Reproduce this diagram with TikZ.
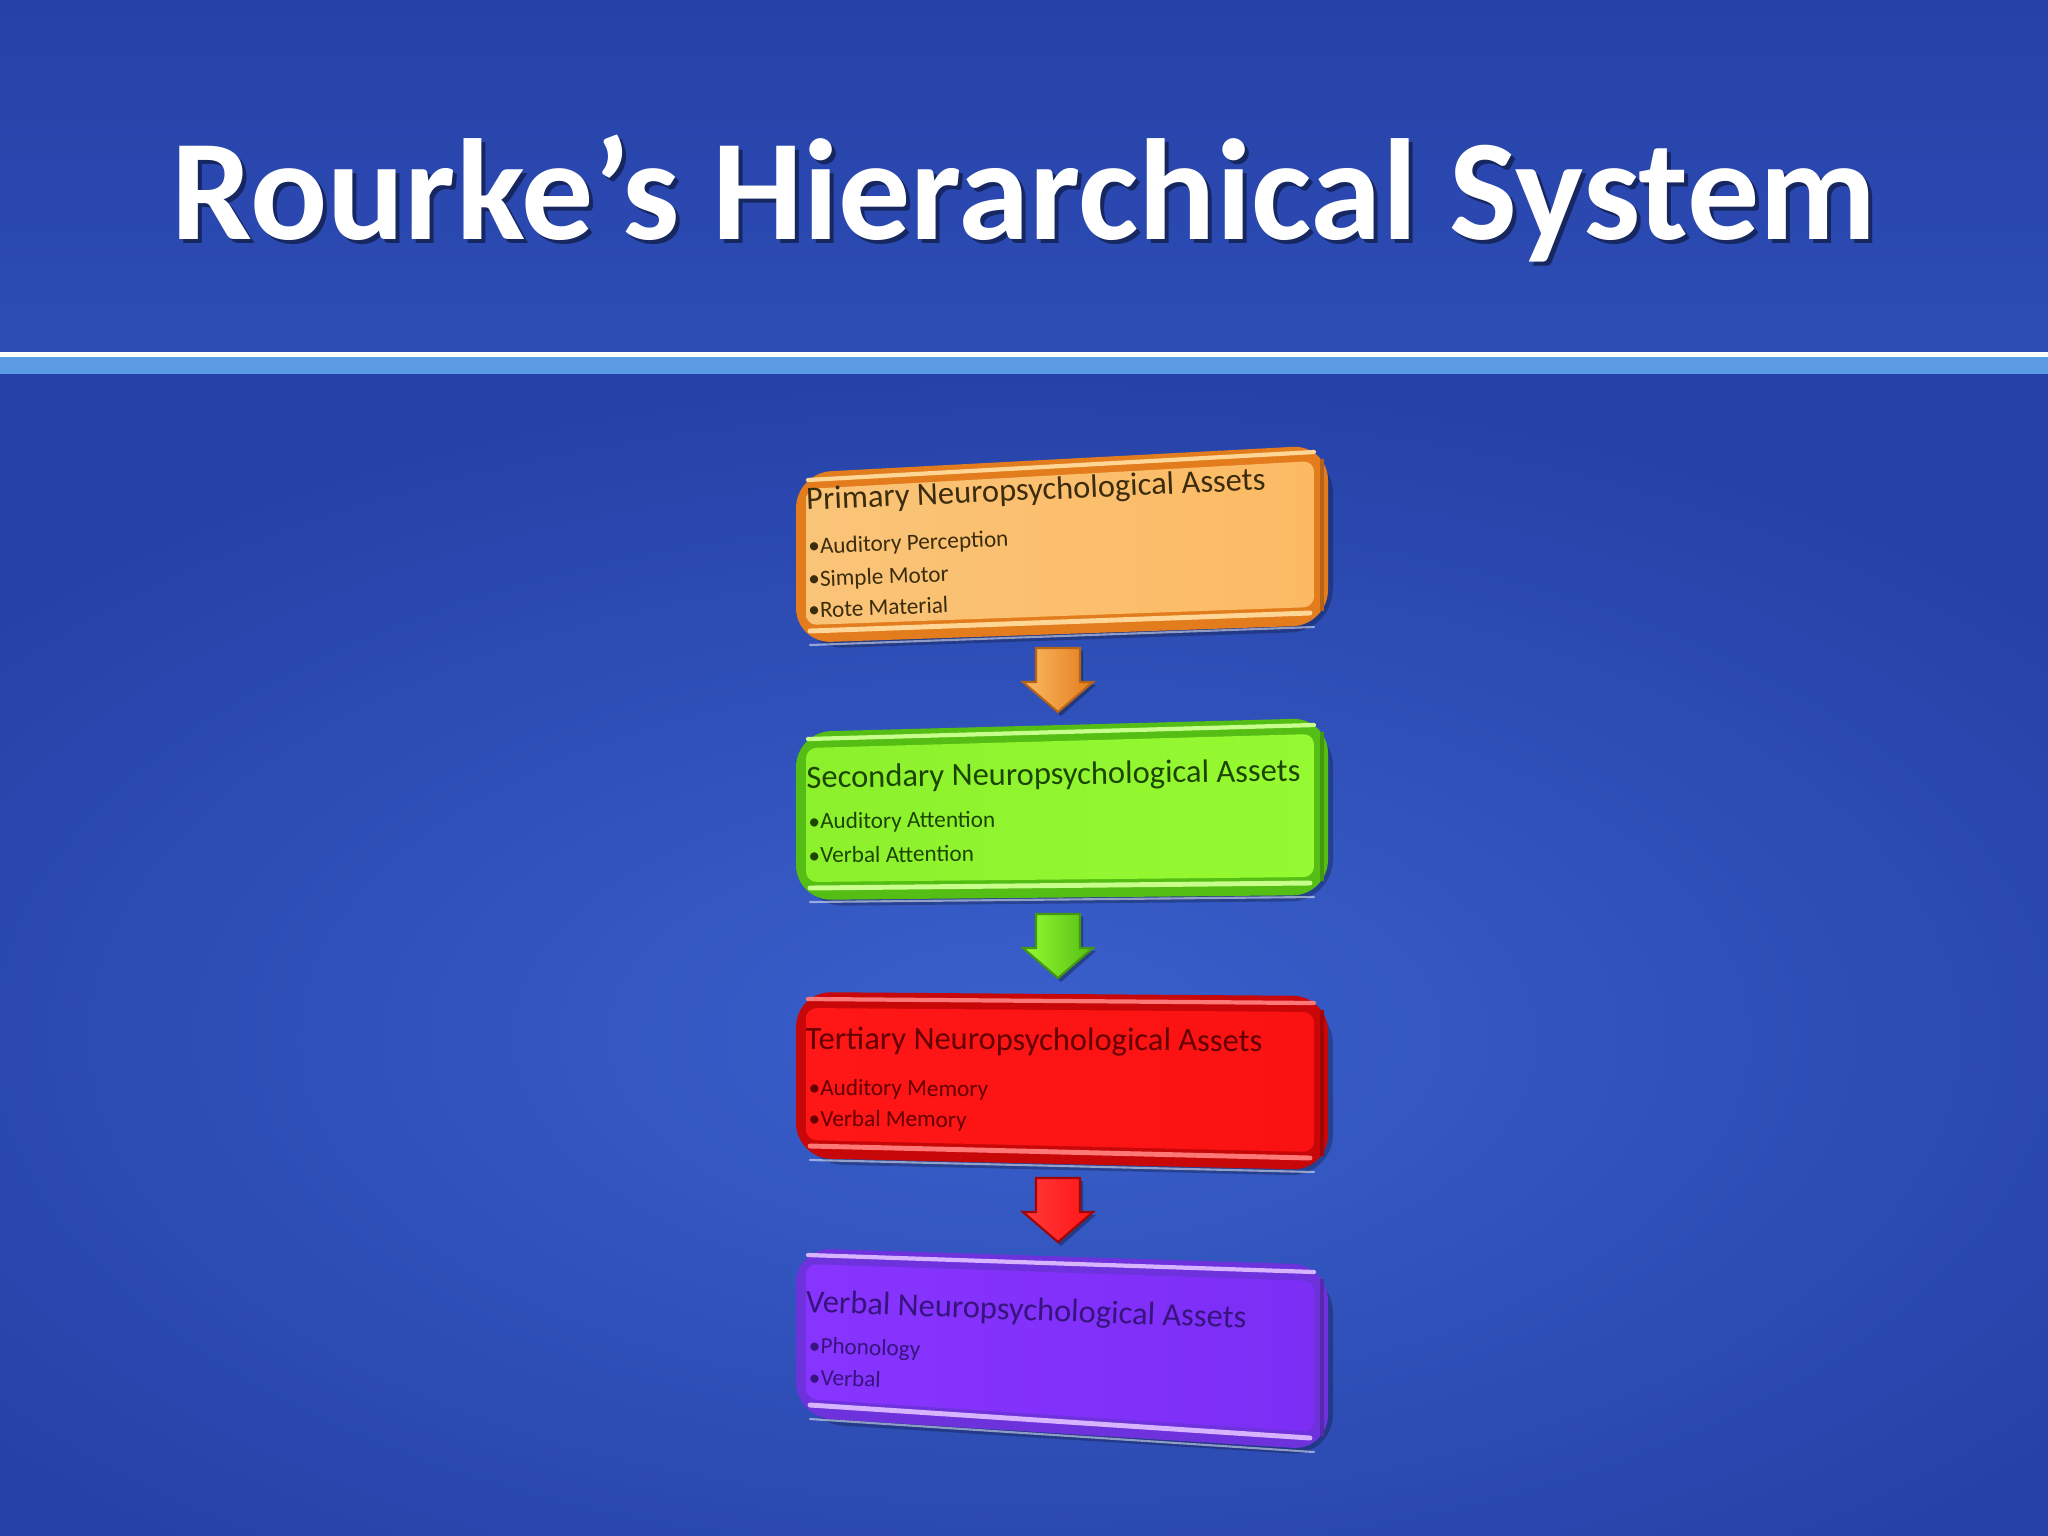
\documentclass[tikz,border=0pt]{standalone}
\usepackage{fontspec}
\setmainfont{Carlito}
\usetikzlibrary{calc}
\definecolor{bgtop}{RGB}{43,74,178}
\definecolor{bgin}{RGB}{58,96,204}
\definecolor{bgout}{RGB}{38,66,168}
\definecolor{sepblue}{RGB}{90,155,228}
% orange
\definecolor{oBord}{RGB}{226,124,28}
\definecolor{oFillA}{RGB}{250,196,120}
\definecolor{oFillB}{RGB}{252,186,100}
\definecolor{oHi}{RGB}{255,214,150}
\definecolor{oText}{RGB}{60,44,14}
% green
\definecolor{gBord}{RGB}{84,190,20}
\definecolor{gFillA}{RGB}{140,240,45}
\definecolor{gFillB}{RGB}{150,250,50}
\definecolor{gHi}{RGB}{200,255,140}
\definecolor{gText}{RGB}{28,70,0}
% red
\definecolor{rBord}{RGB}{200,8,8}
\definecolor{rFillA}{RGB}{255,22,22}
\definecolor{rFillB}{RGB}{250,18,18}
\definecolor{rHi}{RGB}{255,120,120}
\definecolor{rText}{RGB}{100,0,0}
% purple
\definecolor{pBord}{RGB}{110,50,220}
\definecolor{pFillA}{RGB}{136,52,255}
\definecolor{pFillB}{RGB}{124,46,245}
\definecolor{pHi}{RGB}{215,180,255}
\definecolor{pText}{RGB}{55,20,125}
\tikzset{
  hdr/.style={anchor=base west, inner sep=0pt, font=\fontsize{9.25}{11}\selectfont},
  itm/.style={anchor=base west, inner sep=0pt, font=\fontsize{6.6}{8}\selectfont},
  blockarrow/.style={line width=0.6pt},
}
% #1 prefix, #2 border, #3 fillA, #4 fillB, #5 highlight
\newcommand{\assetbox}[5]{%
  \fill[black,opacity=0.25,rounded corners=12pt]
    ($(#1tl)+(5,6)$) -- ($(#1tr)+(5,6)$) -- ($(#1br)+(5,6)$) -- ($(#1bl)+(5,6)$) -- cycle;
  \fill[#2,rounded corners=10pt] (#1tl) -- (#1tr) -- (#1br) -- (#1bl) -- cycle;
  \draw[#5,line width=1.2pt,line cap=round] ($(#1tl)+(12,7)$) -- ($(#1tr)+(-14,7)$);
  \shade[left color=#3,right color=#4,rounded corners=3pt]
    ($(#1tl)+(10,16)$) -- ($(#1tr)+(-14,16)$) -- ($(#1br)+(-14,-18)$) -- ($(#1bl)+(10,-18)$) -- cycle;
  \draw[#5,line width=1.4pt,line cap=round] ($(#1bl)+(14,-12)$) -- ($(#1br)+(-18,-12)$);
  \draw[#2!80!black,line width=1.2pt] ($(#1tr)+(-6,14)$) -- ($(#1br)+(-6,-14)$);
  \draw[white,opacity=0.5,line width=0.6pt,line cap=round] ($(#1bl)+(14,2)$) -- ($(#1br)+(-14,2)$);
}
\newcommand{\blockarrow}[5]{% #1 cx, #2 top y, #3 fill, #4 dark, #5 light
  \fill[black,opacity=0.3] (#1-19,#2+3) -- (#1+25,#2+3) -- (#1+25,#2+37) -- (#1+38,#2+37) -- (#1+3,#2+68) -- (#1-32,#2+37) -- (#1-19,#2+37) -- cycle;
  \shade[left color=#5,right color=#3,draw=#4,blockarrow] (#1-22,#2) -- (#1+22,#2) -- (#1+22,#2+34) -- (#1+35,#2+34) -- (#1,#2+64) -- (#1-35,#2+34) -- (#1-22,#2+34) -- cycle;
}
\begin{document}
\begin{tikzpicture}[x=0.01cm,y=-0.01cm]
\useasboundingbox (0,0) rectangle (2048,1536);
% background
\shade[top color=bgout,bottom color=bgtop!90!bgin] (0,0) rectangle (2048,353);
\shade[inner color=bgin,outer color=bgout] (-300,374) rectangle (2348,1700);
\fill[white] (0,352) rectangle (2048,357);
\fill[sepblue] (0,357) rectangle (2048,374);
% title
\node[anchor=base,inner sep=0pt,text=black,opacity=0.45,font=\fontsize{40.9}{48}\selectfont\bfseries] (titleshadow) at (1028,243) {Rourke’s Hierarchical System};
\node[anchor=base,inner sep=0pt,text=white,font=\fontsize{40.9}{48}\selectfont\bfseries] (title) at (1024,239) {Rourke’s Hierarchical System};

% box coordinates
\coordinate (atl) at (796,473);  \coordinate (atr) at (1328,445);
\coordinate (abr) at (1328,625); \coordinate (abl) at (796,643);
\coordinate (btl) at (796,732);  \coordinate (btr) at (1328,718);
\coordinate (bbr) at (1328,895); \coordinate (bbl) at (796,900);
\coordinate (ctl) at (796,992);  \coordinate (ctr) at (1328,996);
\coordinate (cbr) at (1328,1170); \coordinate (cbl) at (796,1158);
\coordinate (dtl) at (796,1248); \coordinate (dtr) at (1328,1265);
\coordinate (dbr) at (1328,1450); \coordinate (dbl) at (796,1417);

\assetbox{a}{oBord}{oFillA}{oFillB}{oHi}
\assetbox{b}{gBord}{gFillA}{gFillB}{gHi}
\assetbox{c}{rBord}{rFillA}{rFillB}{rHi}
\assetbox{d}{pBord}{pFillA}{pFillB}{pHi}

% texts
\node[hdr,text=oText,rotate=2.5] (ah) at (806,510) {Primary Neuropsychological Assets};
\node[itm,text=oText,rotate=2.2] (ai1) at (808,554) {•Auditory Perception};
\node[itm,text=oText,rotate=2.2] (ai2) at (808,587) {•Simple Motor};
\node[itm,text=oText,rotate=2.2] (ai3) at (808,618) {•Rote Material};

\node[hdr,text=gText,rotate=0.8] (bh) at (806,788) {Secondary Neuropsychological Assets};
\node[itm,text=gText,rotate=0.6] (bi1) at (808,829) {•Auditory Attention};
\node[itm,text=gText,rotate=0.6] (bi2) at (808,863) {•Verbal Attention};

\node[hdr,text=rText,rotate=-0.3] (ch) at (805,1049) {Tertiary Neuropsychological Assets};
\node[itm,text=rText,rotate=-0.5] (ci1) at (808,1095) {•Auditory Memory};
\node[itm,text=rText,rotate=-0.5] (ci2) at (808,1126) {•Verbal Memory};

\node[hdr,text=pText,rotate=-2.1] (dh) at (805,1312) {Verbal Neuropsychological Assets};
\node[itm,text=pText,rotate=-2.0] (di1) at (808,1353) {•Phonology};
\node[itm,text=pText,rotate=-2.0] (di2) at (808,1385) {•Verbal};

% block arrows between boxes
\blockarrow{1058}{648}{oBord}{oBord!80!black}{oFillB}
\blockarrow{1058}{914}{gBord}{gBord!80!black}{gFillB}
\blockarrow{1058}{1178}{rFillA}{rBord!80!black}{rFillA!85!white}
\end{tikzpicture}
\end{document}
